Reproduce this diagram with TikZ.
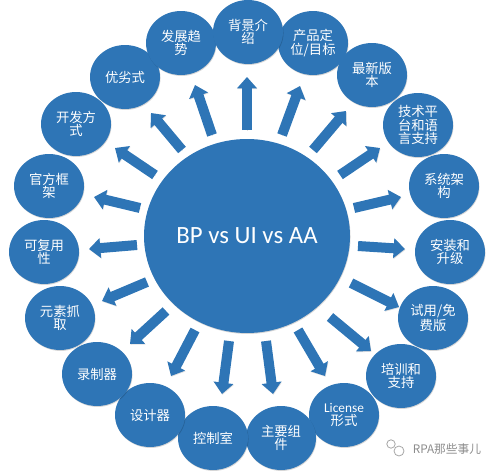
\documentclass[tikz,border=0pt]{standalone}
\usepackage{fontspec}
\setmainfont{Carlito}
\newfontfamily\cjk{Noto Sans CJK SC}
\usetikzlibrary{shapes.geometric,shadows,arrows.meta}
\definecolor{bubble}{HTML}{2E75B6}
\tikzset{
  x=.75pt,y=-.75pt,
  soft/.style={general shadow={shadow xshift=.4pt,shadow yshift=-.7pt,fill=black,opacity=.16}},
  topic/.style={ellipse,fill=bubble,inner sep=0pt,minimum width=52.5pt,minimum height=48pt,text=white,align=center,
    font=\cjk\fontsize{10}{10.2}\selectfont,soft},
  hubnode/.style={ellipse,fill=bubble,inner sep=0pt,minimum width=154.5pt,minimum height=145.5pt,text=white,
    font=\fontsize{18.6}{20}\selectfont,soft},
  ray/.style={draw=bubble,line width=7.5pt,
    -{Triangle[width=14.5pt,length=8.5pt]},
    preaction={draw=black!30,draw opacity=.4,transform canvas={shift={(.4pt,-.6pt)}}}},
}
\begin{document}
\begin{tikzpicture}
\useasboundingbox (0,0) rectangle (497,471);
% arrow ends
\foreach \n/\tx/\ty/\hx/\hy in {
  a/247/130/247/77, b/282/135/300/86, c/313/150/346/111, d/340/175/380/148,
  e/354/208/401/197, f/358/246/405/249, g/351/283/399/307, h/330/317/371/351,
  i/298/330/325/376, j/266/341/273/394, k/229/341/222/394, l/195/330/171/376,
  m/166/311/130/344, n/147/282/102/301, o/137/245/89/249, p/140/208/94/197,
  q/155/175/115/148, r/182/150/151/113, s/212/135/195/85}{
  \coordinate (t\n) at (\tx,\ty);
  \coordinate (h\n) at (\hx,\hy);
}
\foreach \n in {a,b,c,d,e,f,g,h,i,j,k,l,m,n,o,p,q,r,s}{
  \draw[ray] (t\n) -- (h\n);
}
% hub
\node[hubnode] (hub) at (247,236) {BP vs UI vs AA};
% topics, drawn in the reference's stacking order
\node[topic] (n2) at (313,43) {产品定\\位/目标};
\node[topic] (n3) at (372,75) {最新版\\本};
\node[topic] (n4) at (418,125) {技术平\\台和语\\言支持};
\node[topic] (n5) at (444,186) {系统架\\构};
\node[topic] (n6) at (450,252) {安装和\\升级};
\node[topic] (n7) at (433,318) {试用/免\\费版};
\node[topic] (n8) at (401,376) {培训和\\支持};
\node[topic] (n9) at (344,415) {{\fontspec{Carlito}License}\\形式};
\node[topic] (n10) at (281,438) {主要组\\件};
\node[topic] (n11) at (213,438) {控制室};
\node[topic] (n12) at (150,415) {设计器};
\node[topic] (n13) at (97,374) {录制器};
\node[topic] (n14) at (60,318) {元素抓\\取};
\node[topic] (n15) at (44,252) {可复用\\性};
\node[topic] (n16) at (49,186) {官方框\\架};
\node[topic] (n17) at (76,124) {开发方\\式};
\node[topic] (n18) at (125,77) {优劣式};
\node[topic] (n19) at (181,43) {发展趋\\势};
\node[topic] (n1) at (248,32) {背景介\\绍};
% watermark
\draw[black!35,line width=.6pt,fill=white] (391,444) circle[radius=4.2];
\draw[black!35,line width=.6pt,fill=white] (399,451) circle[radius=5];
\node[text=black!45,inner sep=0pt,font=\cjk\fontsize{8.8}{10}\selectfont] (mark) at (447,449) {RPA那些事儿};
\end{tikzpicture}
\end{document}
